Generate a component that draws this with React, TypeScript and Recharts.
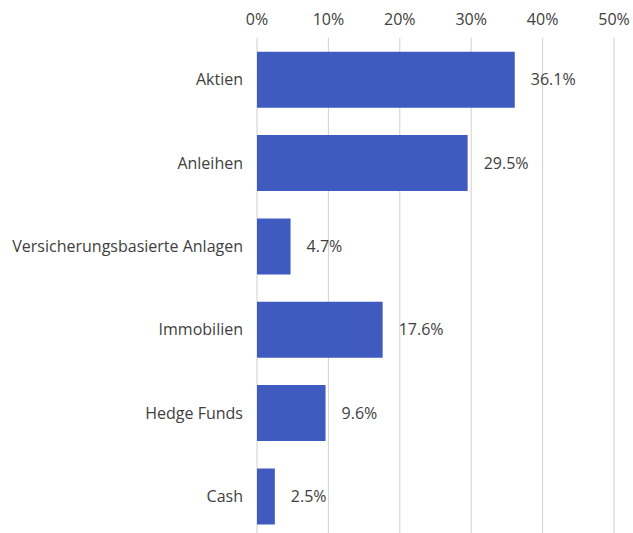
import { BarChart, Bar, XAxis, YAxis, CartesianGrid, LabelList } from "recharts"

const categories = ["Aktien", "Anleihen", "Versicherungsbasierte Anlagen", "Immobilien", "Hedge Funds", "Cash"]
const shares = [36.1, 29.5, 4.7, 17.6, 9.6, 2.5]
const ticks = [0, 10, 20, 30, 40, 50]

const data = categories.map((name, i) => ({ name, share: shares[i] }))

const font = { fontFamily: "Open Sans", fontSize: 16, fill: "#404040" }

export default function App() {
  return (
    <div style={{ position: "absolute", left: 0, top: 0 }}>
      <BarChart
        width={633}
        height={540}
        data={data}
        layout="vertical"
        barCategoryGap="16.5%"
        margin={{ top: 0, right: 19, left: 0, bottom: 2 }}
      >
        <CartesianGrid horizontal={false} stroke="#d0d0d0" />
        <XAxis
          type="number"
          orientation="top"
          domain={[0, 50]}
          ticks={ticks}
          tickFormatter={(v) => `${v}%`}
          height={38}
          axisLine={false}
          tickLine={false}
          tickMargin={7}
          tick={font}
        />
        <YAxis
          type="category"
          dataKey="name"
          width={257}
          axisLine={false}
          tickLine={false}
          tickSize={0}
          tickMargin={14}
          tick={font}
          interval={0}
        />
        <Bar dataKey="share" fill="#3f5bbf" isAnimationActive={false}>
          <LabelList
            dataKey="share"
            position="right"
            offset={16}
            formatter={(v) => `${Number(v).toFixed(1)}%`}
            style={font}
          />
        </Bar>
      </BarChart>
    </div>
  )
}
